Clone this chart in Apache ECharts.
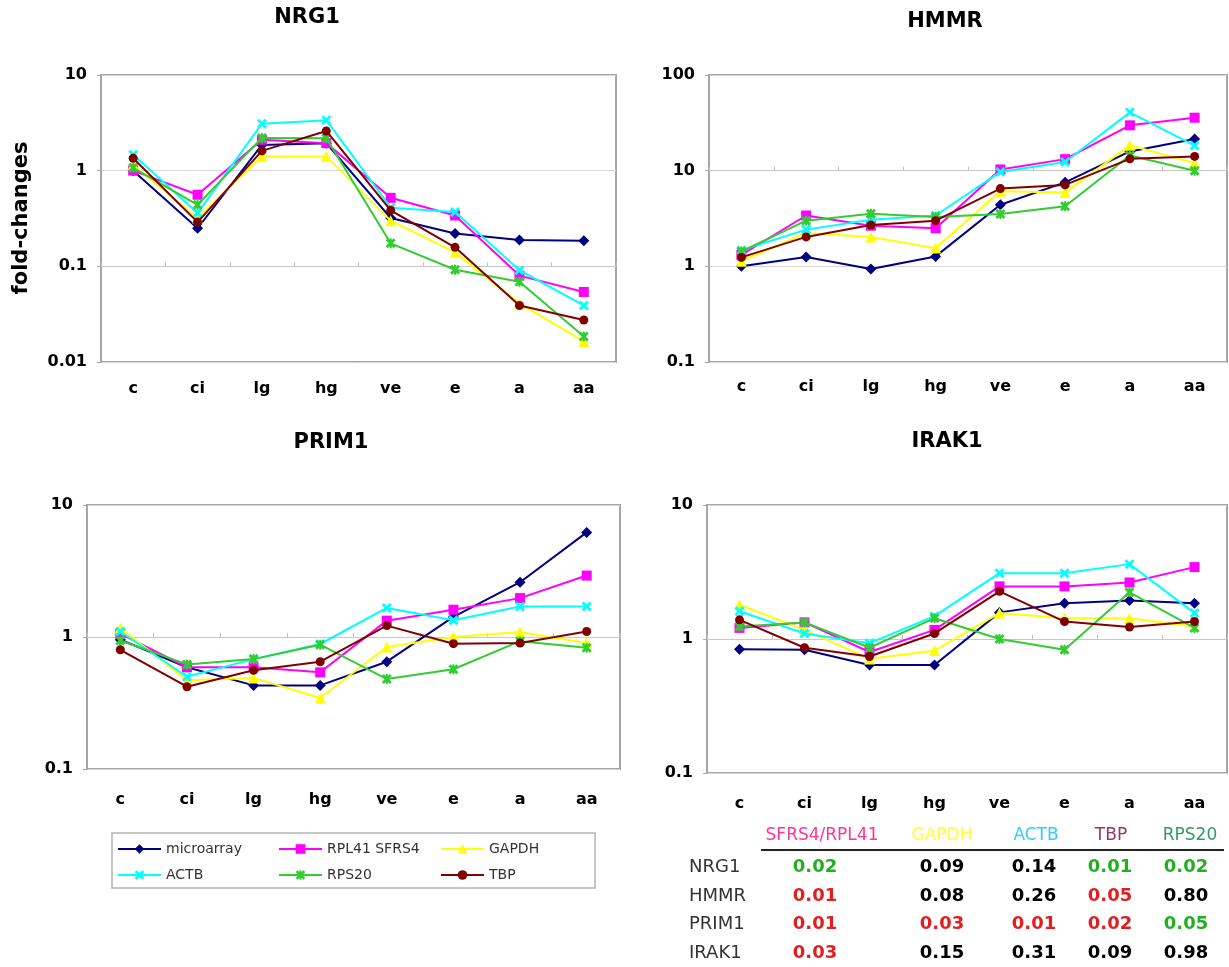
<!DOCTYPE html>
<html>
<head>
<meta charset="utf-8">
<script src="https://cdn.jsdelivr.net/npm/echarts@6/dist/echarts.min.js"></script>
<style>
html,body{margin:0;padding:0;background:#fff;}
#chart{width:1229px;height:967px;}
</style>
</head>
<body>
<div id="chart"></div>
<script>
// ---------- data ----------
const categories = ['c','ci','lg','hg','ve','e','a','aa'];
const seriesNames = ['microarray','RPL41 SFRS4','GAPDH','ACTB','RPS20','TBP'];
const panelTitles = ['NRG1','HMMR','PRIM1','IRAK1'];
const yMin = [0.01, 0.1, 0.1, 0.1];
const yMax = [10, 100, 10, 10];

// NRG1
const nrg1Microarray = [1.0, 0.25, 1.86, 1.94, 0.32, 0.22, 0.188, 0.185];
const nrg1Rpl41      = [1.0, 0.56, 2.1, 1.94, 0.52, 0.34, 0.08, 0.054];
const nrg1Gapdh      = [1.15, 0.32, 1.41, 1.41, 0.30, 0.14, 0.041, 0.0164];
const nrg1Actb       = [1.47, 0.36, 3.1, 3.37, 0.41, 0.37, 0.091, 0.039];
const nrg1Rps20      = [1.07, 0.44, 2.2, 2.18, 0.174, 0.092, 0.069, 0.0185];
const nrg1Tbp        = [1.35, 0.29, 1.61, 2.6, 0.385, 0.158, 0.039, 0.0275];
// HMMR
const hmmrMicroarray = [1.0, 1.25, 0.94, 1.27, 4.4, 7.55, 15.9, 21.4];
const hmmrRpl41      = [1.32, 3.4, 2.66, 2.5, 10.3, 13.2, 29.8, 35.8];
const hmmrGapdh      = [1.13, 2.23, 2.03, 1.55, 6.1, 5.9, 18.4, 12.0];
const hmmrActb       = [1.47, 2.42, 3.07, 3.4, 9.7, 12.3, 40.7, 18.3];
const hmmrRps20      = [1.43, 3.0, 3.55, 3.28, 3.52, 4.24, 14.4, 10.0];
const hmmrTbp        = [1.24, 2.03, 2.7, 3.0, 6.5, 7.1, 13.3, 14.1];
// PRIM1
const prim1Microarray = [0.955, 0.59, 0.43, 0.43, 0.65, 1.42, 2.6, 6.2];
const prim1Rpl41      = [1.06, 0.59, 0.59, 0.54, 1.33, 1.61, 1.97, 2.92];
const prim1Gapdh      = [1.17, 0.47, 0.49, 0.345, 0.84, 1.0, 1.09, 0.90];
const prim1Actb       = [1.1, 0.50, 0.68, 0.885, 1.66, 1.34, 1.7, 1.7];
const prim1Rps20      = [0.94, 0.62, 0.68, 0.875, 0.48, 0.57, 0.93, 0.83];
const prim1Tbp        = [0.80, 0.42, 0.56, 0.65, 1.22, 0.89, 0.90, 1.1];
// IRAK1
const irak1Microarray = [0.84, 0.83, 0.64, 0.64, 1.58, 1.85, 1.94, 1.85];
const irak1Rpl41      = [1.21, 1.33, 0.80, 1.17, 2.47, 2.47, 2.64, 3.44];
const irak1Gapdh      = [1.8, 1.17, 0.71, 0.82, 1.56, 1.43, 1.43, 1.24];
const irak1Actb       = [1.61, 1.1, 0.93, 1.48, 3.1, 3.1, 3.62, 1.56];
const irak1Rps20      = [1.24, 1.33, 0.86, 1.43, 1.0, 0.83, 2.23, 1.21];
const irak1Tbp        = [1.39, 0.86, 0.74, 1.1, 2.27, 1.35, 1.23, 1.35];

// table
const tableColumns = ['SFRS4/RPL41','GAPDH','ACTB','TBP','RPS20'];
const tableRows = ['NRG1','HMMR','PRIM1','IRAK1'];
const tableValues = [
  ['0.02','0.09','0.14','0.01','0.02'],
  ['0.01','0.08','0.26','0.05','0.80'],
  ['0.01','0.03','0.01','0.02','0.05'],
  ['0.03','0.15','0.31','0.09','0.98']
];
// g = green, r = red, k = black
const tableFlags = [
  ['g','k','k','g','g'],
  ['r','k','k','r','k'],
  ['r','r','r','r','g'],
  ['r','k','k','k','k']
];

const panelData = [
  [nrg1Microarray, nrg1Rpl41, nrg1Gapdh, nrg1Actb, nrg1Rps20, nrg1Tbp],
  [hmmrMicroarray, hmmrRpl41, hmmrGapdh, hmmrActb, hmmrRps20, hmmrTbp],
  [prim1Microarray, prim1Rpl41, prim1Gapdh, prim1Actb, prim1Rps20, prim1Tbp],
  [irak1Microarray, irak1Rpl41, irak1Gapdh, irak1Actb, irak1Rps20, irak1Tbp]
];

// ---------- styles / layout ----------
const FONT = '"DejaVu Sans", Verdana, sans-serif';
const seriesColors = ['#000080','#ff00ff','#ffff00','#00ffff','#33cc33','#800000'];
const xPath = 'path://M0,2L2,0L5,3L8,0L10,2L7,5L10,8L8,10L5,7L2,10L0,8L3,5Z';
const starPath = 'path://M0,2L2,0L5,3L8,0L10,2L7,5L10,8L8,10L5,7L2,10L0,8L3,5Z M4,0L6,0L6,10L4,10Z';
const seriesSymbols = ['diamond','rect','triangle', xPath, starPath, 'circle'];
const seriesSymbolSizes = [11, 10, 11, 10, 10, 9];

const grids = [
  {left:101, top:75, width:515, height:287},
  {left:709, top:75, width:518, height:287},
  {left:87, top:505, width:533, height:264},
  {left:707, top:505, width:520, height:268}
];
const titlePos = [[307,18],[945,22],[331,443],[947,442]];
const labelMargin = [19, 17, 23, 23];

const option = {
  backgroundColor:'#fff',
  animation:false,
  grid: grids.map(g => ({left:g.left, top:g.top, width:g.width, height:g.height, show:true,
    borderColor:'#a6a6a6', borderWidth:2, backgroundColor:'#fff', containLabel:false})),
  xAxis: [], yAxis: [], series: [], legend: [], graphic: []
};

grids.forEach((g, i) => {
  option.xAxis.push({
    type:'category', gridIndex:i, data:categories, boundaryGap:true,
    axisLine:{show:false}, axisTick:{show:false},
    axisLabel:{fontFamily:FONT, fontWeight:'bold', fontSize:16, color:'#000', margin:labelMargin[i]}
  });
  // horizontal axis crossing at 1 (Excel log-axis default)
  const frac = (Math.log10(1) - Math.log10(yMin[i])) / (Math.log10(yMax[i]) - Math.log10(yMin[i]));
  option.xAxis.push({
    type:'category', gridIndex:i, data:categories, boundaryGap:true,
    offset: -g.height * frac,
    axisLine:{show:true, lineStyle:{color:'#c8c8c8', width:1}},
    axisTick:{show:true, length:4, lineStyle:{color:'#c0c0c0'}},
    axisLabel:{show:false}
  });
  option.yAxis.push({
    type:'log', logBase:10, gridIndex:i, min:yMin[i], max:yMax[i],
    axisLine:{show:true, lineStyle:{color:'#a6a6a6', width:2}},
    axisTick:{show:true, length:4, lineStyle:{color:'#a6a6a6'}},
    splitLine:{show:true, lineStyle:{color:'#d6d6d6', width:1}},
    axisLabel:{fontFamily:FONT, fontWeight:'bold', fontSize:16, color:'#000', margin:14,
      formatter: v => String(parseFloat(Number(v).toPrecision(3)))}
  });
  panelData[i].forEach((vals, s) => {
    option.series.push({
      type:'line', name:seriesNames[s], xAxisIndex:i*2, yAxisIndex:i,
      data:vals, symbol:seriesSymbols[s], symbolSize:seriesSymbolSizes[s], showAllSymbol:true,
      lineStyle:{color:seriesColors[s], width:2},
      itemStyle:{color:seriesColors[s]},
      z: 2 + s
    });
  });
  option.graphic.push({type:'text', x:titlePos[i][0], y:titlePos[i][1],
    style:{text:panelTitles[i], fill:'#000', font:'bold 21px ' + FONT,
      textAlign:'center', align:'center', textVerticalAlign:'middle', verticalAlign:'middle'}});
});

// y-axis name
option.graphic.push({type:'text', x:22, y:218, rotation:Math.PI/2,
  style:{text:'fold-changes', fill:'#000', font:'bold 21px ' + FONT,
    textAlign:'center', align:'center', textVerticalAlign:'middle', verticalAlign:'middle'}});

// legend box + legends
option.graphic.push({type:'rect', shape:{x:112, y:833, width:483, height:55},
  style:{fill:'#fff', stroke:'#b4b4b4', lineWidth:1.5}, z:-1});
const legendPos = [[117,842],[278,842],[440,842],[117,868],[278,868],[440,868]];
seriesNames.forEach((n, s) => {
  option.legend.push({data:[n], left:legendPos[s][0], top:legendPos[s][1], padding:0,
    itemWidth:43, itemHeight:12, selectedMode:false,
    textStyle:{fontFamily:FONT, fontSize:14, color:'#333'}});
});

// table
const headerX = [822, 942, 1036, 1111, 1190];
const colX = [815, 942, 1034, 1110, 1186];
const rowY = [867, 896, 924, 953];
const headerColors = ['#ff3399','#ffff33','#33ccff','#993366','#339966'];
const flagColors = {g:'#22b022', r:'#e02020', k:'#000'};
tableColumns.forEach((c, j) => {
  option.graphic.push({type:'text', x:headerX[j], y:836,
    style:{text:c, fill:headerColors[j], font:'17px ' + FONT,
      textAlign:'center', align:'center', textVerticalAlign:'middle', verticalAlign:'middle'}});
});
option.graphic.push({type:'line', shape:{x1:761, y1:850, x2:1224, y2:850},
  style:{stroke:'#222', lineWidth:2}});
tableRows.forEach((r, i) => {
  option.graphic.push({type:'text', x:689, y:rowY[i],
    style:{text:r, fill:'#333', font:'18px ' + FONT,
      textAlign:'left', align:'left', textVerticalAlign:'middle', verticalAlign:'middle'}});
  tableValues[i].forEach((v, j) => {
    option.graphic.push({type:'text', x:colX[j], y:rowY[i],
      style:{text:v, fill:flagColors[tableFlags[i][j]], font:'bold 18px ' + FONT,
        textAlign:'center', align:'center', textVerticalAlign:'middle', verticalAlign:'middle'}});
  });
});

const chart = echarts.init(document.getElementById('chart'), null, {renderer:'canvas'});
chart.setOption(option);
</script>
</body>
</html>
